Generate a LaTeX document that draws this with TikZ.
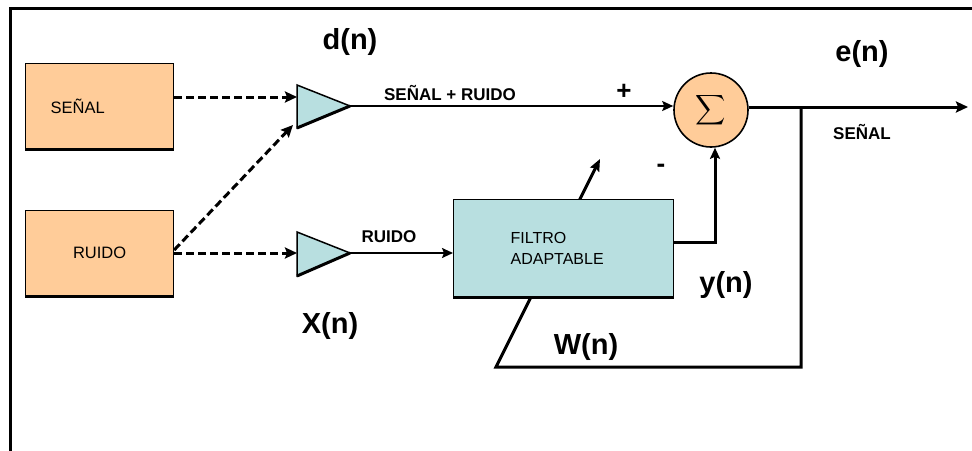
\documentclass[tikz,border=0pt]{standalone}
\usepackage{fontspec}
\usepackage{graphicx}
\setmainfont{Liberation Sans}
\usetikzlibrary{arrows.meta,calc,backgrounds}
\definecolor{orangefill}{HTML}{FFCC99}
\definecolor{bluefill}{HTML}{B8DFE0}
\begin{document}
\begin{tikzpicture}[x=1pt,y=-1pt,
  blk/.style={draw, line width=1.2pt, inner ysep=0pt, anchor=north west},
  srcbox/.style={blk, fill=orangefill, minimum width=148pt, minimum height=85pt, font=\fontsize{16.5}{19}\selectfont},
  filtbox/.style={blk, fill=bluefill, minimum width=220pt, minimum height=97pt, inner xsep=57pt, text width=106pt, align=left, font=\fontsize{16}{21}\selectfont},
  amp/.style={draw, line width=1.5pt, fill=bluefill, line join=miter},
  sumnode/.style={circle, draw, line width=1.6pt, fill=orangefill, minimum size=74pt, inner sep=0pt},
  dasharrow/.style={line width=3pt, dash pattern=on 8pt off 4pt, -{Stealth[length=12pt,width=11pt,inset=2pt]}},
  sigline/.style={line width=1.8pt, -{Stealth[length=11pt,width=10pt,inset=2pt]}},
  thickline/.style={line width=3pt},
  biglabel/.style={font=\bfseries\fontsize{29}{32}\selectfont, inner sep=0pt},
  smalllabel/.style={font=\bfseries\fontsize{17}{19}\selectfont, inner sep=0pt},
  signlabel/.style={font=\bfseries\fontsize{26}{28}\selectfont, inner sep=0pt}]
\useasboundingbox (0,0) rectangle (972,450);
% frame
\draw[line width=3pt] (10,452) -- (10,8) -- (974,8);

% triangles (amplifiers)
\draw[amp] (297,85) -- (350,106) -- (297,128) -- cycle;
\draw[amp] (297,232) -- (350,253) -- (297,276) -- cycle;
\draw[line width=3pt] (297,128) -- (350,106);
\draw[line width=3pt] (297,276) -- (350,253);
\coordinate (t1in) at (297,97);
\coordinate (t1low) at (293,125);
\coordinate (t1tip) at (350,106);
\coordinate (t2in) at (297,253);
\coordinate (t2tip) at (350,253);

% source boxes
\node[srcbox, text width=98pt, inner xsep=25pt, align=left] (senal) at (25,63) {SEÑAL};
\node[srcbox, align=center] (ruido) at (25,210) {RUIDO};
\draw[line width=3pt] (senal.south west) -- (senal.south east);
\draw[line width=3pt] (ruido.south west) -- (ruido.south east);

% sum node
\node[sumnode] (sum) at (711,110) {\scalebox{2.1}{$\displaystyle\sum$}};

% filter
\node[filtbox] (filt) at (453,199) {FILTRO\\ADAPTABLE};
\draw[line width=3pt] (filt.south west) -- (filt.south east);

% feedback / weight update path behind the filter
\coordinate (fb) at (801,107);
\coordinate (fbcorner) at (801,367);
\coordinate (wstart) at (496,367);
\coordinate (wend) at (600,159);
\begin{scope}[on background layer]
\draw[thickline, -{Stealth[length=12pt,width=10pt,inset=2pt]}] (fb) -- (fbcorner) -- (wstart) -- (wend);
\end{scope}

% dashed inputs
\draw[dasharrow] (senal.east |- t1in) -- (t1in);
\draw[dasharrow] (ruido.east |- t2in) -- (t2in);
\draw[dasharrow] ($(ruido.east |- t2in)+(0,-3)$) -- (t1low);

% signal lines
\draw[sigline] (t1tip) -- (sum.west |- t1tip);
\draw[sigline] (t2tip) -- (filt.west |- t2tip);
\coordinate (yout) at (filt.east |- 0,242);
\draw[thickline, -{Stealth[length=11pt,width=10pt,inset=2pt]}] (yout) -| ($(sum.south)+(4,0)$);
\coordinate (out) at (968,107);
\draw[thickline, -{Stealth[length=12pt,width=11pt,inset=2pt]}] (sum.east |- out) -- (out);

% labels
\node[biglabel] (ldn) at (350,42) {d(n)};
\node[biglabel] (len) at (862,54) {e(n)};
\node[biglabel] (lxn) at (330,326) {X(n)};
\node[biglabel] (lyn) at (726,285) {y(n)};
\node[biglabel] (lwn) at (586,347) {W(n)};
\node[smalllabel] (lsr) at (450,93) {SEÑAL + RUIDO};
\node[smalllabel] (lsen) at (862,132) {SEÑAL};
\node[smalllabel] (lru) at (389,237) {RUIDO};
\node[signlabel] (lplus) at (624,92) {+};
\node[signlabel] (lminus) at (661,168) {-};
\end{tikzpicture}
\end{document}
